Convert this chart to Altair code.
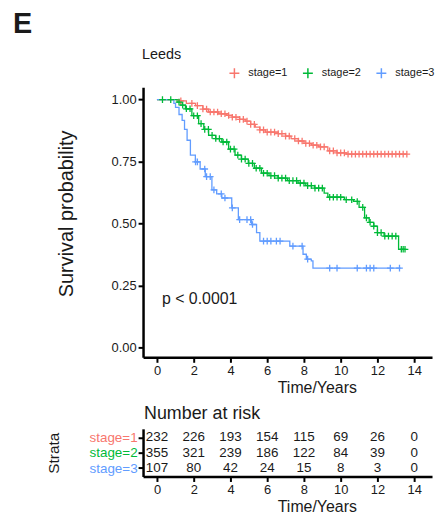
import altair as alt
import pandas as pd

# ---------------- data ----------------
stages = ["stage=1", "stage=2", "stage=3"]
colors = ["#F8766D", "#00BA38", "#619CFF"]

s1_time = [0, 1.2, 1.6, 2.1, 2.5, 2.8, 3.35, 3.8, 4.1, 4.5, 4.8, 5.1, 5.35, 5.6, 5.9,
           6.6, 7.0, 7.3, 7.7, 8.0, 8.4, 8.8, 9.3, 9.8, 10.3, 13.6]
s1_surv = [1.0, 0.995, 0.985, 0.976, 0.962, 0.95, 0.943, 0.936, 0.929, 0.92, 0.913, 0.90,
           0.889, 0.878, 0.869, 0.863, 0.853, 0.843, 0.833, 0.823, 0.816, 0.809, 0.793,
           0.785, 0.78, 0.78]

s2_time = [0, 1.1, 1.3, 1.55, 1.9, 2.27, 2.55, 2.81, 3.2, 3.53, 3.9, 4.25, 4.6, 4.97,
           5.3, 5.69, 6.1, 6.59, 7.1, 7.68, 8.1, 8.58, 9.1, 9.3, 10.2, 10.7, 11.0, 11.3,
           11.55, 11.8, 12.0, 12.36, 13.15, 13.5]
s2_surv = [1.0, 0.99, 0.978, 0.963, 0.935, 0.903, 0.88, 0.856, 0.843, 0.829, 0.80, 0.776,
           0.76, 0.743, 0.723, 0.703, 0.693, 0.683, 0.673, 0.663, 0.653, 0.643, 0.623,
           0.606, 0.596, 0.589, 0.565, 0.523, 0.505, 0.489, 0.463, 0.449, 0.396, 0.396]

s3_time = [0, 0.92, 1.01, 1.2, 1.37, 1.5, 1.64, 1.82, 2.09, 2.35, 2.63, 2.99, 3.25, 3.53,
           4.07, 4.43, 5.15, 5.42, 5.6, 7.23, 7.95, 8.13, 8.4, 8.49, 13.26]
s3_surv = [1.0, 0.985, 0.969, 0.94, 0.916, 0.88, 0.836, 0.776, 0.749, 0.72, 0.689, 0.636,
           0.62, 0.603, 0.563, 0.516, 0.496, 0.463, 0.429, 0.409, 0.376, 0.356, 0.349,
           0.32, 0.32]

c1_time = [1.3, 1.9, 2.2, 2.5, 2.7, 2.9, 3.1, 3.3, 3.5, 3.7, 3.9, 4.1, 4.3, 4.5, 4.7,
           4.9, 5.1, 5.3, 5.6, 5.8, 6.0, 6.2, 6.4, 6.6, 6.8, 7.0, 7.2, 7.5, 7.7, 7.9, 8.1,
           8.3, 8.5, 8.7, 8.9, 9.1, 9.4, 9.6, 9.8, 10.0, 10.2, 10.4, 10.6, 10.8, 11.0, 11.2,
           11.4, 11.6, 11.8, 12.0, 12.2, 12.4, 12.6, 12.8, 13.0, 13.2, 13.4, 13.6]
c2_time = [0.3, 0.75, 1.2, 1.4, 1.6, 1.8, 2.0, 2.2, 2.4, 2.6, 2.8, 3.0, 3.2, 3.4, 3.6,
           3.8, 4.0, 4.2, 4.4, 4.6, 4.8, 5.0, 5.2, 5.4, 5.6, 5.8, 6.0, 6.2, 6.4, 6.6, 6.8,
           7.0, 7.2, 7.4, 7.6, 7.8, 8.0, 8.2, 8.4, 8.6, 8.8, 9.0, 9.4, 9.6, 9.8, 10.0,
           10.3, 10.6, 10.9, 11.2, 11.4, 11.6, 11.8, 12.0, 12.2, 12.4, 12.6, 12.8, 13.0,
           13.3, 13.4, 13.5]
c3_time = [2.1, 2.2, 2.6, 2.7, 2.9, 3.1, 3.5, 3.7, 4.1, 4.5, 4.9, 5.1, 5.2, 5.8, 6.0,
           6.2, 6.5, 6.7, 7.4, 7.9, 8.2, 9.4, 9.8, 10.9, 11.4, 11.6, 11.8, 12.7, 13.2]

risk_times = [0, 2, 4, 6, 8, 10, 12, 14]
risk1 = [232, 226, 193, 154, 115, 69, 26, 0]
risk2 = [355, 321, 239, 186, 122, 84, 39, 0]
risk3 = [107, 80, 42, 24, 15, 8, 3, 0]

x_ticks = [0, 2, 4, 6, 8, 10, 12, 14]
y_ticks = [0, 0.25, 0.5, 0.75, 1.0]
p_label = "p < 0.0001"

# ---------------- tables ----------------
def step_at(ts, ss, t):
    v = ss[0]
    for ti, si in zip(ts, ss):
        if ti <= t:
            v = si
        else:
            break
    return v

curve_rows, cens_rows = [], []
for st, ts, ss, cs in [(stages[0], s1_time, s1_surv, c1_time),
                       (stages[1], s2_time, s2_surv, c2_time),
                       (stages[2], s3_time, s3_surv, c3_time)]:
    for i, (t, s) in enumerate(zip(ts, ss)):
        curve_rows.append({"stage": st, "time": t, "surv": s, "ord": i})
    for t in cs:
        cens_rows.append({"stage": st, "time": t, "surv": step_at(ts, ss, t)})
curves = pd.DataFrame(curve_rows)
cens = pd.DataFrame(cens_rows)

risk_rows = []
for st, vals in zip(stages, [risk1, risk2, risk3]):
    for t, n in zip(risk_times, vals):
        risk_rows.append({"stage": st, "time": t, "n": n})
risk = pd.DataFrame(risk_rows)

one = pd.DataFrame({"a": [0]})

FONT = "Liberation Sans"
INK = "#1a1a1a"
PLUS = "M-1,0L1,0M0,-1L0,1"
W = 291

xscale = alt.Scale(domain=[-0.757, 14.97], nice=False, zero=False)
cscale = alt.Scale(domain=stages, range=colors)

def xaxis():
    return alt.Axis(values=x_ticks, title="Time/Years", titleFontSize=16, titleFontWeight="normal",
                    titleX=175, titlePadding=2, labelFontSize=13, labelPadding=2,
                    labelFlush=False, labelOverlap=False)

# ---------------- top: KM curves ----------------
X = alt.X("time:Q", scale=xscale, axis=xaxis())
Y = alt.Y("surv:Q", scale=alt.Scale(domain=[-0.04, 1.05], nice=False, zero=False),
          axis=alt.Axis(values=y_ticks, format=".2f", title="Survival probability",
                        titleFontSize=20, titleFontWeight="normal", titlePadding=35,
                        titleY=127, labelFontSize=13, labelPadding=2))

lines = alt.Chart(curves).mark_line(interpolate="step-after", strokeWidth=1.3).encode(
    x=X, y=Y,
    color=alt.Color("stage:N", scale=cscale,
                    legend=alt.Legend(title=None, orient="none", direction="horizontal",
                                      legendX=86, legendY=-20, symbolType=PLUS, symbolSize=100,
                                      symbolStrokeWidth=1.5, labelFontSize=11, labelOffset=8,
                                      columnPadding=12, padding=0, labelColor=INK,
                                      labelFont=FONT)),
    order="ord:Q")

marks = alt.Chart(cens).mark_point(shape=PLUS, size=45, strokeWidth=1.3, filled=False,
                                   opacity=1).encode(
    x=alt.X("time:Q", scale=xscale), y=alt.Y("surv:Q"),
    color=alt.Color("stage:N", scale=cscale, legend=None))

ptext = alt.Chart(one).mark_text(align="left", baseline="middle", fontSize=16, font=FONT,
                                 color=INK).encode(
    x=alt.datum(0.27), y=alt.datum(0.196), text=alt.value(p_label))

etext = alt.Chart(one).mark_text(align="left", baseline="top", fontSize=29, fontWeight="bold",
                                 font=FONT, color=INK).encode(
    x=alt.value(-131), y=alt.value(-78), text=alt.value("E"))

leeds = alt.Chart(one).mark_text(align="left", baseline="alphabetic", fontSize=14.5,
                                 font=FONT, color=INK).encode(
    x=alt.value(-1), y=alt.value(-28), text=alt.value("Leeds"))

top = alt.layer(lines, marks, ptext, etext, leeds).properties(width=W, height=272)

# ---------------- bottom: risk table ----------------
label_color = ("datum.value == 'stage=1' ? '%s' : datum.value == 'stage=2' ? '%s' : '%s'"
               % tuple(colors))

table = alt.Chart(risk).mark_text(fontSize=13.5, font=FONT, color=INK).encode(
    x=alt.X("time:Q", scale=xscale, axis=xaxis()),
    y=alt.Y("stage:N", scale=alt.Scale(type="point", domain=stages, padding=0.55),
            axis=alt.Axis(title="Strata", titleFontSize=15.5, titleFontWeight="normal",
                          titlePadding=28, labelFontSize=13.5, labelPadding=1,
                          labelColor=alt.ExprRef(expr=label_color))),
    text="n:Q")

nar = alt.Chart(one).mark_text(align="left", baseline="top", fontSize=18, font=FONT,
                               color=INK).encode(
    x=alt.value(1), y=alt.value(-24), text=alt.value("Number at risk"))

bottom = alt.layer(table, nar).properties(width=W, height=48)

chart = alt.vconcat(top, bottom, spacing=10).properties(
    padding={"left": 5, "top": 0, "right": 0, "bottom": 0}
).configure_view(stroke=None).configure_axis(
    grid=False, domainColor="black", domainWidth=2.5, tickColor="black", tickWidth=2,
    tickSize=5, labelColor=INK, titleColor=INK, labelFont=FONT, titleFont=FONT
).configure_text(font=FONT)

chart.save("out.html", embed_options={"renderer": "svg", "actions": False})
